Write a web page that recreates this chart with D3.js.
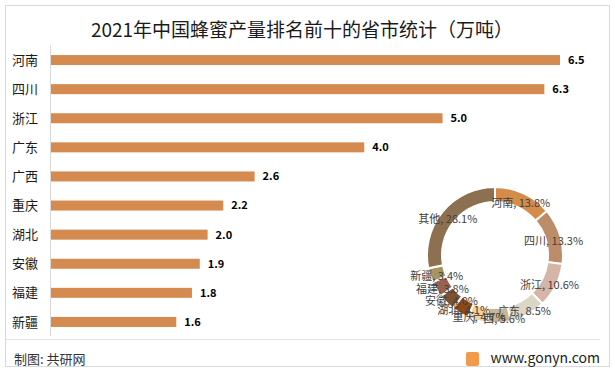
<!DOCTYPE html>
<html>
<head>
<meta charset="utf-8">
<script src="https://cdn.jsdelivr.net/npm/d3@7"></script>
<style>
  body { margin: 0; background: #fff; }
  svg { font-family: "Microsoft YaHei", "Noto Sans CJK SC", sans-serif; }
</style>
</head>
<body>
<script>
const width = 615;
const height = 373;

// 柱状图数据
const provinces = ["河南", "四川", "浙江", "广东", "广西", "重庆", "湖北", "安徽", "福建", "新疆"];
const output = [6.5, 6.3, 5.0, 4.0, 2.6, 2.2, 2.0, 1.9, 1.8, 1.6];

// 环形图数据
const pieNames = ["河南", "四川", "浙江", "广东", "广西", "重庆", "湖北", "安徽", "福建", "新疆", "其他"];
const pieShares = [13.8, 13.3, 10.6, 8.5, 5.6, 4.7, 4.1, 4.0, 3.8, 3.4, 28.1];
const pieColors = ["#d58b4a", "#bd8d6a", "#d5b5a8", "#dcd6c6", "#c8b596", "#f5d29a",
                   "#8e4a12", "#7b5232", "#9a6150", "#a69560", "#8c7050"];

const svg = d3
    .select("body")
    .append("svg")
    .attr("width", width)
    .attr("height", height);

// 外框
svg.append("rect")
    .attr("x", 5.5).attr("y", 5.5)
    .attr("width", 604).attr("height", 361)
    .attr("fill", "none")
    .attr("stroke", "#d9d9d9");

// 标题
svg.append("text")
    .attr("x", 302)
    .attr("y", 37)
    .attr("text-anchor", "middle")
    .attr("font-size", 19)
    .attr("fill", "#1a1a1a")
    .text("2021年中国蜂蜜产量排名前十的省市统计（万吨）");

const x = d3.scaleLinear().domain([0, 6.5]).range([51, 560]);
const y = d3.scaleBand()
    .domain(provinces)
    .range([45.5, 336.5])
    .paddingInner(0.656)
    .paddingOuter(0.328);

// 纵轴线
svg.append("line")
    .attr("x1", 50.5).attr("x2", 50.5)
    .attr("y1", 45).attr("y2", 336)
    .attr("stroke", "#d9d9d9");

svg.append("g")
    .selectAll("rect")
    .data(provinces)
    .join("rect")
    .attr("x", x(0))
    .attr("y", d => y(d))
    .attr("width", (d, i) => x(output[i]) - x(0))
    .attr("height", y.bandwidth())
    .attr("fill", "#d58b4f");

svg.append("g")
    .selectAll("text")
    .data(provinces)
    .join("text")
    .attr("x", 12)
    .attr("y", d => y(d) + y.bandwidth() / 2)
    .attr("dy", "0.35em")
    .attr("font-size", 13)
    .attr("fill", "#1a1a1a")
    .text(d => d);

svg.append("g")
    .selectAll("text")
    .data(provinces)
    .join("text")
    .attr("x", (d, i) => x(output[i]) + 8)
    .attr("y", d => y(d) + y.bandwidth() / 2)
    .attr("dy", "0.35em")
    .attr("font-size", 11)
    .attr("font-weight", "bold")
    .attr("fill", "#000")
    .text((d, i) => output[i].toFixed(1));

// 环形图
const cx = 495, cy = 255;
const pie = d3.pie().sort(null).value(d => d)(pieShares);
const arc = d3.arc().innerRadius(53).outerRadius(68);
const labelArc = d3.arc().innerRadius(61).outerRadius(61);

const donut = svg.append("g").attr("transform", `translate(${cx},${cy})`);

donut.selectAll("path")
    .data(pie)
    .join("path")
    .attr("d", arc)
    .attr("fill", (d, i) => pieColors[i])
    .attr("stroke", "#fff")
    .attr("stroke-width", 2);

donut.selectAll("text")
    .data(pie)
    .join("text")
    .attr("transform", d => {
        const [lx, ly] = labelArc.centroid(d);
        return `translate(${lx},${ly + 3})`;
    })
    .attr("text-anchor", "middle")
    .attr("dy", "0.35em")
    .attr("font-size", 11)
    .attr("fill", "#404040")
    .text((d, i) => `${pieNames[i]}, ${pieShares[i].toFixed(1)}%`);

// 底部
svg.append("line")
    .attr("x1", 6).attr("x2", 600)
    .attr("y1", 339.5).attr("y2", 339.5)
    .attr("stroke", "#e6e6e6");

svg.append("text")
    .attr("x", 14)
    .attr("y", 359)
    .attr("dy", "0.35em")
    .attr("font-size", 13)
    .attr("fill", "#333")
    .text("制图: 共研网");

svg.append("rect")
    .attr("x", 466).attr("y", 352)
    .attr("width", 13).attr("height", 14)
    .attr("rx", 2)
    .attr("fill", "#f39a4a");

svg.append("text")
    .attr("x", 600)
    .attr("y", 358)
    .attr("dy", "0.35em")
    .attr("text-anchor", "end")
    .attr("font-size", 14)
    .attr("fill", "#222")
    .text("www.gonyn.com");
</script>
</body>
</html>
